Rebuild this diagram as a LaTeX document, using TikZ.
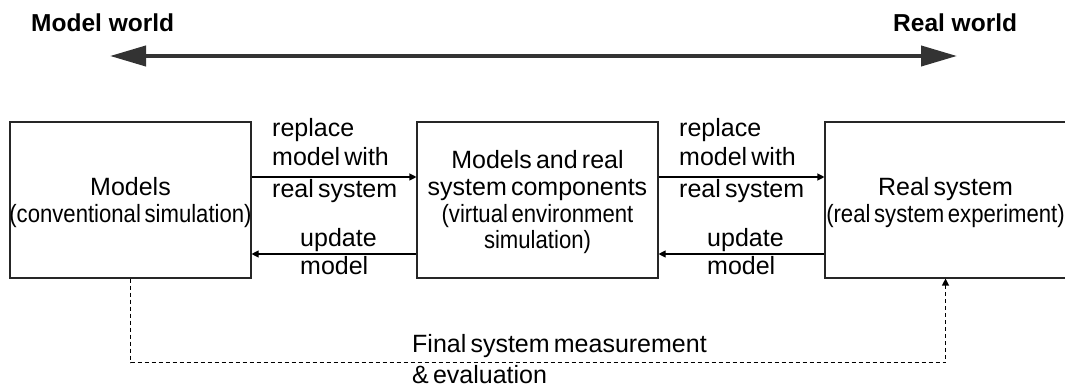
\documentclass[tikz,border=0pt]{standalone}
\usepackage{fontspec}
\setmainfont{Liberation Sans}
% body text with slightly tighter word spacing
\newfontfamily\bodyfont[WordSpace=0.6]{Liberation Sans}
% narrower face for the parenthetical lines
\newfontfamily\narrowfont[FakeStretch=0.885, WordSpace=0.6]{Liberation Sans}
\usetikzlibrary{arrows.meta}

\definecolor{axisgray}{HTML}{333333}

\tikzset{
  box/.style={draw=black!85, line width=1.1pt, minimum width=241pt,
    minimum height=156pt, inner sep=0pt},
  main/.style={inner sep=0pt, anchor=base, font=\bodyfont\fontsize{25}{28}\selectfont},
  paren/.style={inner sep=0pt, anchor=base, font=\narrowfont\fontsize{25}{28}\selectfont},
  title/.style={inner sep=0pt, anchor=base west, font=\bfseries\fontsize{24.5}{28}\selectfont},
  flowlbl/.style={main, anchor=base west},
  conn/.style={draw=black, line width=1.1pt, -{Triangle[length=7pt,width=7pt]}},
  feedback/.style={conn, dash pattern=on 4pt off 3pt},
  axis/.style={draw=axisgray, line width=4pt,
    {Triangle[length=36pt,width=20pt]}-{Triangle[length=36pt,width=20pt]}}
}

\begin{document}
\begin{tikzpicture}[x=1pt, y=-1pt]
  \useasboundingbox (0,0) rectangle (1065,387);
  \clip (0,0) rectangle (1065,387);

  % model world <-> real world axis
  \node[title] (mworld) at (31,32) {Model world};
  \node[title] (rworld) at (893,32) {Real world};
  \coordinate (axisL) at (110,56);
  \coordinate (axisR) at (957,56);
  \draw[axis] (axisL) -- (axisR);

  % the three stages
  \node[box] (models) at (130.5,200) {};
  \node[box] (mixed)  at (537.5,200) {};
  \node[box] (real)   at (945.5,200) {};

  \node[main]  (models1) at (130.5,196) {Models};
  \node[paren] (models2) at (130.5,223) {(conventional simulation)};

  \node[main]  (mixed1) at (537.5,169) {Models and real};
  \node[main]  (mixed2) at (537.5,196) {system components};
  \node[paren] (mixed3) at (537.5,223) {(virtual environment};
  \node[paren] (mixed4) at (537.5,249) {simulation)};

  \node[main]  (real1) at (945.5,196) {Real system};
  \node[paren] (real2) at (945.5,223) {(real system experiment)};

  % forward: replace model with real system
  \draw[conn] ([yshift=23pt]models.east) -- ([yshift=23pt]mixed.west);
  \draw[conn] ([yshift=23pt]mixed.east) -- ([yshift=23pt]real.west);
  % backward: update model
  \draw[conn] ([yshift=-54pt]mixed.west) -- ([yshift=-54pt]models.east);
  \draw[conn] ([yshift=-54pt]real.west) -- ([yshift=-54pt]mixed.east);

  \node[flowlbl] (rep1a) at (272,137) {replace};
  \node[flowlbl] (rep1b) at (272,166) {model with};
  \node[flowlbl] (rep1c) at (272,198) {real system};
  \node[flowlbl] (rep2a) at (679,137) {replace};
  \node[flowlbl] (rep2b) at (679,166) {model with};
  \node[flowlbl] (rep2c) at (679,198) {real system};

  \node[flowlbl] (upd1a) at (300,247) {update};
  \node[flowlbl] (upd1b) at (300,275) {model};
  \node[flowlbl] (upd2a) at (707,247) {update};
  \node[flowlbl] (upd2b) at (707,275) {model};

  % final measurement loop
  \draw[feedback] (models.south) -- ++(0,84) -| (real.south);
  \node[flowlbl] (final1) at (412,352) {Final system measurement};
  \node[flowlbl] (final2) at (412,383) {\& evaluation};
\end{tikzpicture}
\end{document}
